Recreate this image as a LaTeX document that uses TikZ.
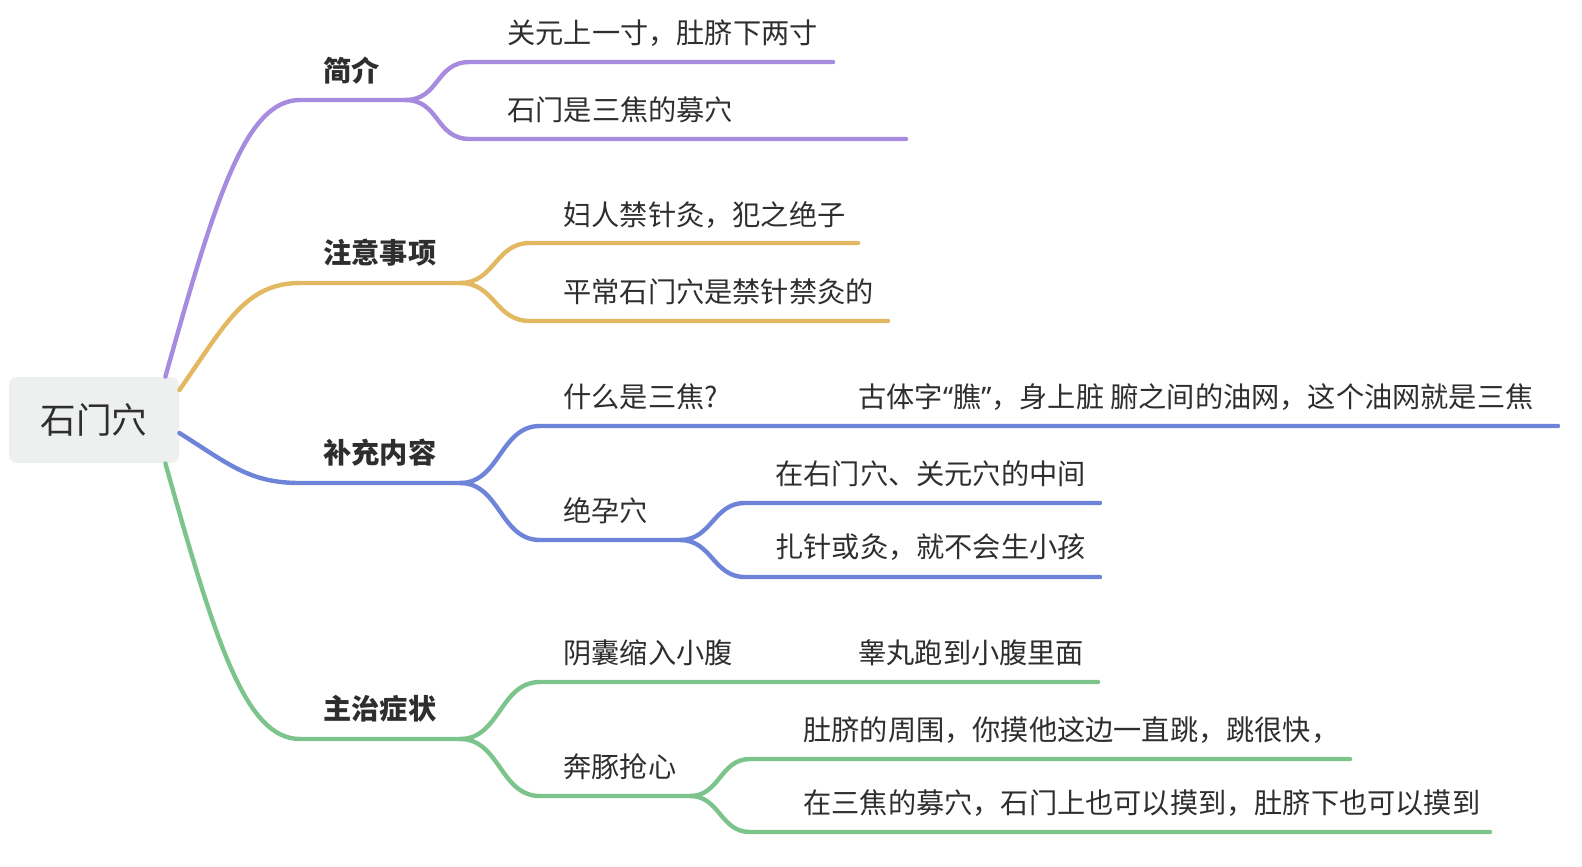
\documentclass[tikz,border=0pt]{standalone}
\usepackage{fontspec}
\setmainfont{Noto Sans CJK SC}
\newfontfamily\latinq{Noto Sans}
\usetikzlibrary{positioning}
\definecolor{cMorado}{HTML}{A78BDF}
\definecolor{cAmarillo}{HTML}{E2B962}
\definecolor{cAzul}{HTML}{6E84D8}
\definecolor{cVerde}{HTML}{7CC48B}
\definecolor{cTexto}{HTML}{2E2E2E}
\definecolor{cRaiz}{HTML}{EEF0F0}
\begin{document}
\begin{tikzpicture}[
  x=0.5pt, y=-0.5pt,
  font=\fontsize{14.1}{16}\selectfont,
  % --- Estilos de los nodos ---
  raiz/.style={
    rectangle,
    rounded corners=4pt,
    fill=cRaiz,
    minimum width=85pt,
    minimum height=43pt,
    text=cTexto,
    font=\fontsize{17.8}{20}\selectfont
  },
  tema/.style={
    anchor=west,
    inner sep=0pt,
    text=cTexto,
    font=\fontsize{14.1}{16}\selectfont\bfseries
  },
  hoja/.style={
    anchor=west,
    inner sep=0pt,
    text=cTexto
  },
  rama/.style={
    line width=2.2pt,
    line cap=round
  }
]
\useasboundingbox (0,0) rectangle (1582,866);

% ---- NODO CENTRAL ----
\node[raiz] (raiz) at (94,420) {石门穴};
\coordinate (r1) at ([xshift=-7pt]raiz.north east);
\coordinate (r2) at ([yshift=15pt]raiz.east);
\coordinate (r3) at ([yshift=-6.5pt]raiz.east);
\coordinate (r4) at ([xshift=-7pt]raiz.south east);

% ---- RAMA 1: 简介 ----
\coordinate (jj-a) at (300,100);
\coordinate (jj-b) at (405,100);
\node[tema] (jj) at (323,71) {简介};
\coordinate (jj1-a) at (470,62);
\coordinate (jj1-b) at (833,62);
\node[hoja] (jj1) at (507,33) {关元上一寸，肚脐下两寸};
\coordinate (jj2-a) at (470,139);
\coordinate (jj2-b) at (906,139);
\node[hoja] (jj2) at (507,110) {石门是三焦的募穴};

% ---- RAMA 2: 注意事项 ----
\coordinate (zy-a) at (300,283);
\coordinate (zy-b) at (460,283);
\node[tema] (zy) at (323,253) {注意事项};
\coordinate (zy1-a) at (530,243);
\coordinate (zy1-b) at (858,243);
\node[hoja] (zy1) at (563,215) {妇人禁针灸，犯之绝子};
\coordinate (zy2-a) at (530,321);
\coordinate (zy2-b) at (888,321);
\node[hoja] (zy2) at (563,292) {平常石门穴是禁针禁灸的};

% ---- RAMA 3: 补充内容 ----
\coordinate (bc-a) at (300,483);
\coordinate (bc-b) at (460,483);
\node[tema] (bc) at (323,453) {补充内容};
\coordinate (bc1-a) at (540,426);
\coordinate (bc1-b) at (745,426);
\coordinate (bc1-c) at (1558,426);
\node[hoja] (bc1) at (563,397) {什么是三焦?};
\node[hoja] (bc1x) at (858,397) {古体字{\latinq “}膲{\latinq ”}，身上脏 腑之间的油网，这个油网就是三焦};
\coordinate (bc2-a) at (540,540);
\coordinate (bc2-b) at (680,540);
\node[hoja] (bc2) at (563,511) {绝孕穴};
\coordinate (bc21-a) at (745,503);
\coordinate (bc21-b) at (1100,503);
\node[hoja] (bc21) at (775,474) {在右门穴、关元穴的中间};
\coordinate (bc22-a) at (745,577);
\coordinate (bc22-b) at (1100,577);
\node[hoja] (bc22) at (775,547) {扎针或灸，就不会生小孩};

% ---- RAMA 4: 主治症状 ----
\coordinate (zz-a) at (300,739);
\coordinate (zz-b) at (460,739);
\node[tema] (zz) at (323,709) {主治症状};
\coordinate (zz1-a) at (540,682);
\coordinate (zz1-b) at (745,682);
\coordinate (zz1-c) at (1098,682);
\node[hoja] (zz1) at (563,653) {阴囊缩入小腹};
\node[hoja] (zz1x) at (858,653) {睾丸跑到小腹里面};
\coordinate (zz2-a) at (540,796);
\coordinate (zz2-b) at (690,796);
\node[hoja] (zz2) at (563,767) {奔豚抢心};
\coordinate (zz21-a) at (750,759);
\coordinate (zz21-b) at (1350,759);
\node[hoja] (zz21) at (803,730) {肚脐的周围，你摸他这边一直跳，跳很快，};
\coordinate (zz22-a) at (750,832);
\coordinate (zz22-b) at (1490,832);
\node[hoja] (zz22) at (803,803) {在三焦的募穴，石门上也可以摸到，肚脐下也可以摸到};

% ---- CONEXIONES ----
% 简介
\draw[rama, cMorado] (r1) .. controls (215,200) and (245,100) .. (jj-a) -- (jj-b);
\draw[rama, cMorado] (jj-b) .. controls +(35,0) and +(-35,0) .. (jj1-a) -- (jj1-b);
\draw[rama, cMorado] (jj-b) .. controls +(35,0) and +(-35,0) .. (jj2-a) -- (jj2-b);

% 注意事项
\draw[rama, cAmarillo] (r2) .. controls (225,325) and (245,283) .. (zy-a) -- (zy-b);
\draw[rama, cAmarillo] (zy-b) .. controls +(35,0) and +(-35,0) .. (zy1-a) -- (zy1-b);
\draw[rama, cAmarillo] (zy-b) .. controls +(35,0) and +(-35,0) .. (zy2-a) -- (zy2-b);

% 补充内容
\draw[rama, cAzul] (r3) .. controls (230,465) and (250,483) .. (bc-a) -- (bc-b);
\draw[rama, cAzul] (bc-b) .. controls +(40,0) and +(-40,0) .. (bc1-a) -- (bc1-b) -- (bc1-c);
\draw[rama, cAzul] (bc-b) .. controls +(40,0) and +(-40,0) .. (bc2-a) -- (bc2-b);
\draw[rama, cAzul] (bc2-b) .. controls +(32,0) and +(-32,0) .. (bc21-a) -- (bc21-b);
\draw[rama, cAzul] (bc2-b) .. controls +(32,0) and +(-32,0) .. (bc22-a) -- (bc22-b);

% 主治症状
\draw[rama, cVerde] (r4) .. controls (215,640) and (245,739) .. (zz-a) -- (zz-b);
\draw[rama, cVerde] (zz-b) .. controls +(40,0) and +(-40,0) .. (zz1-a) -- (zz1-b) -- (zz1-c);
\draw[rama, cVerde] (zz-b) .. controls +(40,0) and +(-40,0) .. (zz2-a) -- (zz2-b);
\draw[rama, cVerde] (zz2-b) .. controls +(30,0) and +(-30,0) .. (zz21-a) -- (zz21-b);
\draw[rama, cVerde] (zz2-b) .. controls +(30,0) and +(-30,0) .. (zz22-a) -- (zz22-b);

\end{tikzpicture}
\end{document}
